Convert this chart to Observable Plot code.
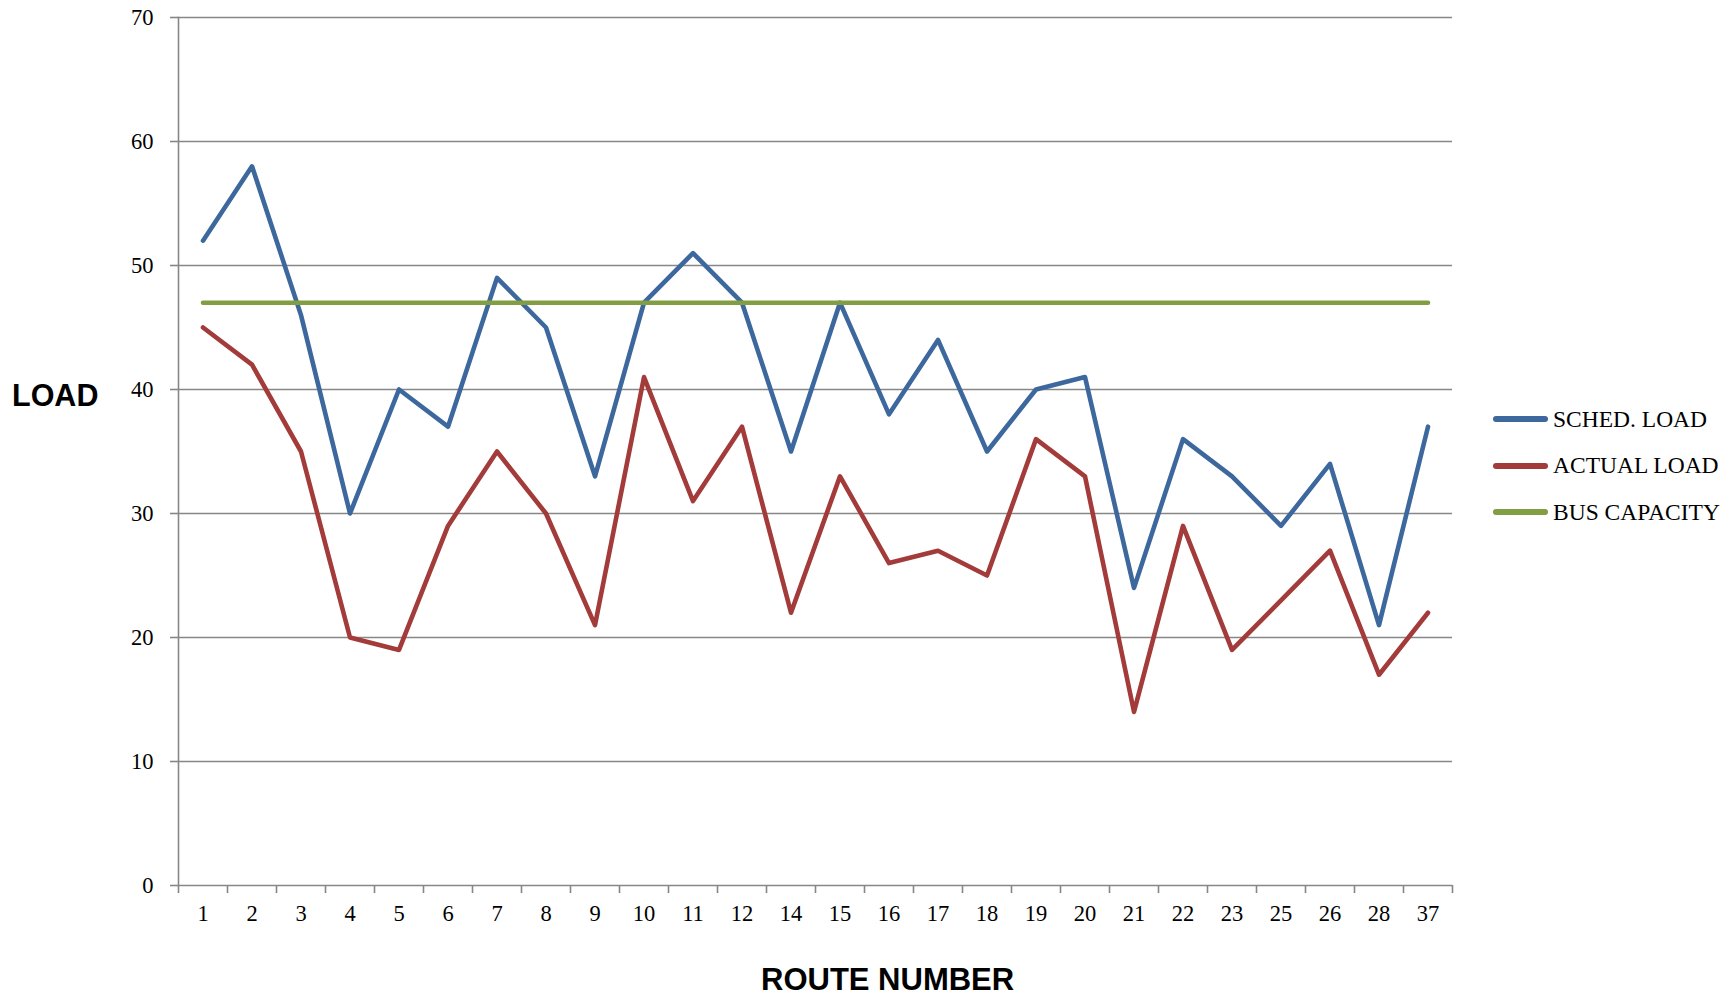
<!DOCTYPE html>
<html>
<head>
<meta charset="utf-8">
<script src="https://cdn.jsdelivr.net/npm/d3@7"></script>
<script src="https://cdn.jsdelivr.net/npm/@observablehq/plot@0.6"></script>
<style>
  body { margin: 0; background: #fff; }
  #wrap { position: relative; width: 1734px; height: 997px; overflow: hidden; }
  #chart { position: absolute; left: 0; top: 0; }
  .ytitle { position: absolute; left: 12px; top: 378px; font: bold 30.5px "Liberation Sans", Arial, sans-serif; color: #000; }
  .xtitle { position: absolute; left: 761px; top: 962px; font: bold 31px "Liberation Sans", Arial, sans-serif; color: #000; white-space: nowrap; }
  .legend { position: absolute; left: 1493px; top: 396px; font: 23.5px "Liberation Serif", "Times New Roman", serif; color: #000; }
  .legend .item { display: flex; align-items: center; height: 46.5px; white-space: nowrap; }
  .legend .sw { width: 55px; height: 6px; border-radius: 3px; margin-right: 5px; }
</style>
</head>
<body>
<div id="wrap">
  <div id="chart"></div>
  <div class="ytitle">LOAD</div>
  <div class="xtitle">ROUTE NUMBER</div>
  <div class="legend" id="legend"></div>
</div>
<script>
const routes = ["1","2","3","4","5","6","7","8","9","10","11","12","14","15","16","17","18","19","20","21","22","23","25","26","28","37"];
const schedLoad  = [52,58,46,30,40,37,49,45,33,47,51,47,35,47,38,44,35,40,41,24,36,33,29,34,21,37];
const actualLoad = [45,42,35,20,19,29,35,30,21,41,31,37,22,33,26,27,25,36,33,14,29,19,23,27,17,22];
const busCapacity = [47,47,47,47,47,47,47,47,47,47,47,47,47,47,47,47,47,47,47,47,47,47,47,47,47,47];
const seriesNames = ["SCHED. LOAD","ACTUAL LOAD","BUS CAPACITY"];
const seriesColors = ["#3D689E","#A23B39","#819E44"];
const yTicks = [0,10,20,30,40,50,60,70];

const seriesValues = [schedLoad, actualLoad, busCapacity];
const rows = [];
seriesNames.forEach((name, s) => {
  routes.forEach((r, i) => rows.push({i, route: r, value: seriesValues[s][i], series: name}));
});

const gridColor = "#878787";
const idx = d3.range(routes.length);
const bounds = d3.range(routes.length + 1).map(i => i - 0.5);

const chart = Plot.plot({
  width: 1734,
  height: 997,
  marginLeft: 178,
  marginRight: 282,
  marginTop: 17,
  marginBottom: 112,
  x: {type: "linear", domain: [-0.5, routes.length - 0.5]},
  y: {domain: [0, 70]},
  color: {domain: seriesNames, range: seriesColors},
  style: {fontFamily: '"Liberation Serif", "Times New Roman", serif', fontSize: "22.5px", color: "#000", background: "#fff"},
  marks: [
    Plot.gridY(yTicks, {stroke: gridColor, strokeOpacity: 1, strokeWidth: 1.6}),
    Plot.frame({anchor: "left", stroke: gridColor, strokeWidth: 1.6}),
    Plot.axisY(yTicks, {tickSize: 8, tickPadding: 17, stroke: gridColor, strokeWidth: 1.6, label: null, fill: "#000"}),
    Plot.axisX(bounds, {tickSize: 8, tickFormat: () => "", stroke: gridColor, strokeWidth: 1.6, label: null}),
    Plot.axisX(idx, {tickSize: 0, tickPadding: 20, tickFormat: i => routes[i], label: null, fill: "#000"}),
    Plot.line(rows, {x: "i", y: "value", z: "series", stroke: "series", strokeWidth: 4.6, strokeLinejoin: "round", strokeLinecap: "round"})
  ]
});
document.getElementById("chart").appendChild(chart);

const legend = document.getElementById("legend");
seriesNames.forEach((name, s) => {
  const item = document.createElement("div");
  item.className = "item";
  const sw = document.createElement("div");
  sw.className = "sw";
  sw.style.background = seriesColors[s];
  const label = document.createElement("span");
  label.textContent = name;
  item.appendChild(sw);
  item.appendChild(label);
  legend.appendChild(item);
});
</script>
</body>
</html>
